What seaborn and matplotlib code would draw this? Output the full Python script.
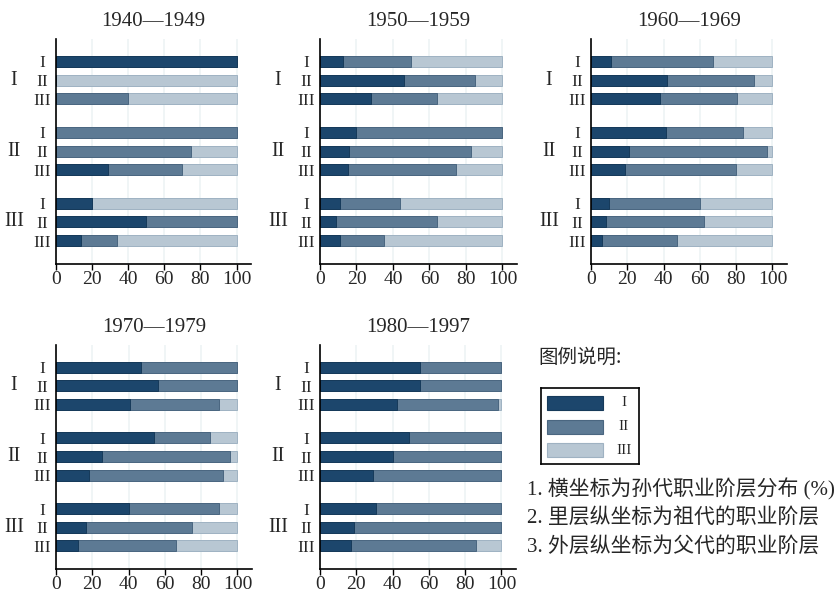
import numpy as np
import pandas as pd
import matplotlib
matplotlib.use("Agg")
import matplotlib.pyplot as plt
from matplotlib.patches import Rectangle
import seaborn as sns

# ---------------- data ----------------
periods = ["1940—1949", "1950—1959", "1960—1969", "1970—1979", "1980—1997"]
outer_labels = ["I", "II", "III"]          # father's class
inner_labels = ["I", "II", "III"]          # grandfather's class
legend_labels = ["I", "II", "III"]         # grandchild's class
x_ticks = [0, 20, 40, 60, 80, 100]

# rows: father I (grand I, II, III), father II (...), father III (...)
# share of grandchildren in class I / II / III (%)
p1940_I   = [100, 0, 0,   0, 0, 29,   20, 50, 14]
p1940_II  = [0, 0, 40,    100, 75, 41, 0, 50, 20]
p1940_III = [0, 100, 60,  0, 25, 30,  80, 0, 66]

p1950_I   = [12.5, 46, 28,   20, 16, 15.5,  11, 9, 11]
p1950_II  = [37.5, 39, 36,   80, 67, 59,    33, 55, 24]
p1950_III = [50, 15, 36,     0, 17, 25.5,   56, 36, 65]

p1960_I   = [11, 42, 38,     41.5, 21, 19,  10, 8, 6]
p1960_II  = [56, 48, 42.5,   42, 76, 61,    50, 54, 41.5]
p1960_III = [33, 10, 19.5,   16.5, 3, 20,   40, 38, 52.5]

p1970_I   = [47, 56, 41,     54, 25.5, 18,  40, 16.5, 12]
p1970_II  = [53, 44, 49,     31, 70.5, 74,  50, 58.5, 54]
p1970_III = [0, 0, 10,       15, 4, 8,      10, 25, 34]

p1980_I   = [55, 55, 42.5,   49, 40, 29,    31, 19, 17]
p1980_II  = [45, 45, 55.5,   51, 60, 70.5,  69, 81, 69]
p1980_III = [0, 0, 2,        0, 0, 0.5,     0, 0, 14]

series = [
    (p1940_I, p1940_II, p1940_III),
    (p1950_I, p1950_II, p1950_III),
    (p1960_I, p1960_II, p1960_III),
    (p1970_I, p1970_II, p1970_III),
    (p1980_I, p1980_II, p1980_III),
]

legend_title = "图例说明:"
notes = ["1. 横坐标为孙代职业阶层分布 (%)",
         "2. 里层纵坐标为祖代的职业阶层",
         "3. 外层纵坐标为父代的职业阶层"]

# ---------------- style ----------------
sns.set_theme(style="white")
plt.rcParams["font.family"] = ["Liberation Serif", "Noto Sans CJK SC"]

dark, mid, light = "#1c466c", "#5d7a94", "#b8c7d3"
dark_e, mid_e, light_e = "#163a5a", "#4a6680", "#9fb2c2"
grid_c = "#edf3f5"

W, H = 837, 601
fig = plt.figure(figsize=(W / 100, H / 100), dpi=100)
fig.patch.set_facecolor("white")


def rect(l, t, r, b):
    return [l / W, 1 - b / H, (r - l) / W, (b - t) / H]


panel_boxes = [
    (56, 39, 251, 264),
    (320, 39, 517, 264),
    (591, 39, 787, 264),
    (56, 345, 252, 569),
    (320, 345, 516, 569),
]

positions = [0, 1, 2, 3.8, 4.8, 5.8, 7.6, 8.6, 9.6]
group_centers = [1, 4.8, 8.6]

for title, (s1, s2, s3), box in zip(periods, series, panel_boxes):
    ax = fig.add_axes(rect(*box))
    a1 = np.array(s1, float)
    a2 = np.array(s2, float)
    a3 = np.array(s3, float)
    df = pd.DataFrame({"pos": positions,
                       "c1": a1, "c2": a1 + a2, "c3": a1 + a2 + a3})
    for col, colr, ec in [("c3", light, light_e), ("c2", mid, mid_e), ("c1", dark, dark_e)]:
        sns.barplot(data=df, x=col, y="pos", orient="h", native_scale=True,
                    color=colr, saturation=1, width=0.59, errorbar=None,
                    edgecolor=ec, linewidth=0.7, ax=ax)
    ax.set_xlim(0, 108)
    ax.set_ylim(10.85, -1.2)
    ax.set_xticks(x_ticks)
    ax.set_xticklabels([str(t) for t in x_ticks])
    ax.set_yticks(positions)
    ax.set_yticklabels(inner_labels * 3, ha="center")
    ax.tick_params(axis="y", length=0, pad=10, labelsize=12.5, left=False)
    ax.tick_params(axis="x", bottom=True, length=4, width=1, direction="out",
                   color="black", labelsize=14, pad=1)
    ax.set_xlabel("")
    ax.set_ylabel("")
    ax.xaxis.grid(True, color=grid_c, lw=1.2)
    ax.yaxis.grid(False)
    ax.set_axisbelow(True)
    for sp in ["top", "right"]:
        ax.spines[sp].set_visible(False)
    for sp in ["left", "bottom"]:
        ax.spines[sp].set_color("black")
        ax.spines[sp].set_linewidth(1.2)
    for lab, yc in zip(outer_labels, group_centers):
        ax.annotate(lab, xy=(0, yc), xycoords=("axes fraction", "data"),
                    xytext=(-42 * 0.72, 0), textcoords="offset points",
                    ha="center", va="center", fontsize=14.5)
    ax.set_title(title, fontsize=15, pad=9)

# ---------------- legend area ----------------
fig.text(538 / W, 1 - 357 / H, legend_title, fontsize=14,
         family=["Noto Sans CJK SC"], va="center", ha="left")

lax = fig.add_axes(rect(541, 388, 639, 464))
lax.set_xlim(541, 639)
lax.set_ylim(464, 388)
lax.set_xticks([])
lax.set_yticks([])
for sp in lax.spines.values():
    sp.set_color("black")
    sp.set_linewidth(1.2)
    sp.set_visible(True)
for colr, ec, lab, yc in zip([dark, mid, light], [dark_e, mid_e, light_e],
                             legend_labels, [403, 427, 450]):
    lax.add_patch(Rectangle((547, yc - 7), 56, 14, facecolor=colr,
                            edgecolor=ec, lw=0.8))
    lax.text(624, yc, lab, ha="center", va="center", fontsize=11)

for txt, yc in zip(notes, [489, 518, 547]):
    fig.text(527 / W, 1 - yc / H, txt, fontsize=15, va="center", ha="left")

fig.savefig("out.png", dpi=100, facecolor="white")
